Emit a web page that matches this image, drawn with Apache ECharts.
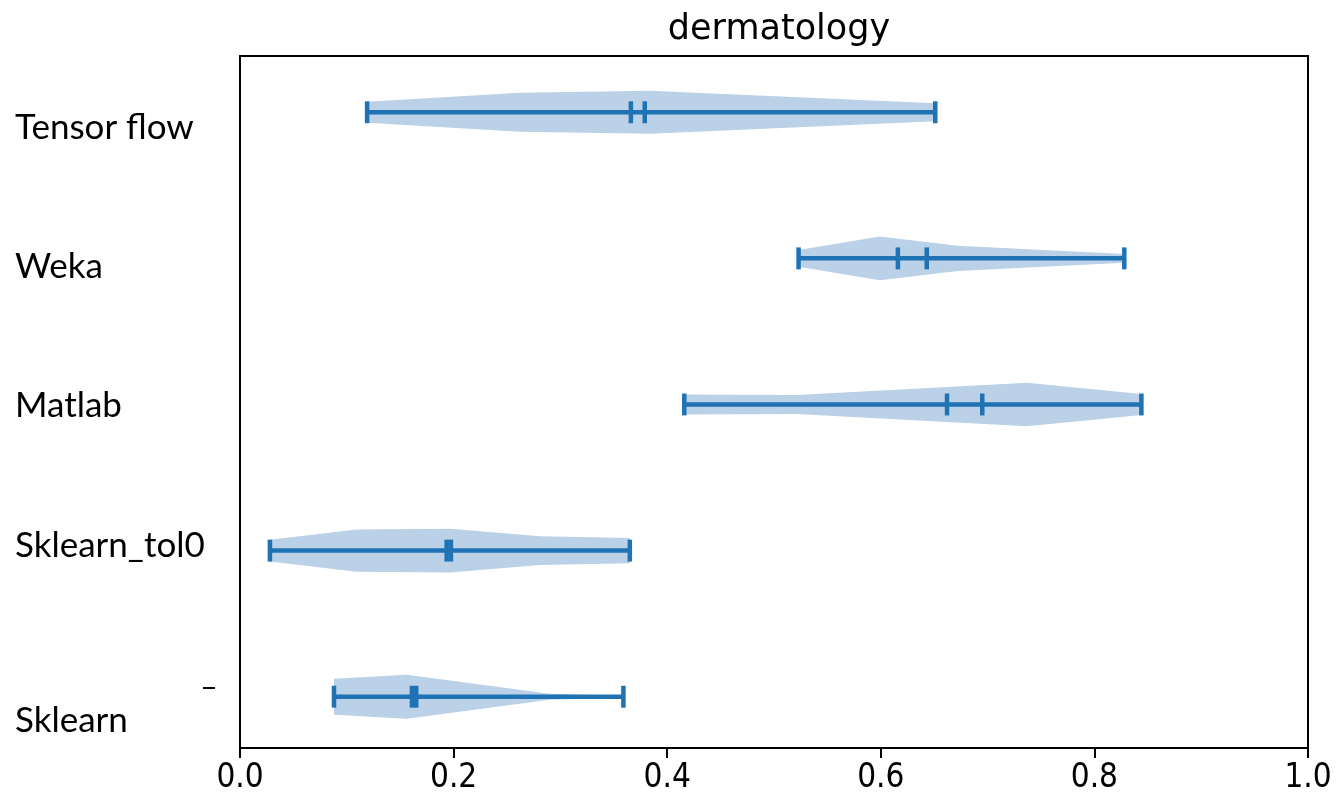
<!DOCTYPE html>
<html>
<head>
<meta charset="utf-8">
<title>dermatology</title>
<script src="https://cdn.jsdelivr.net/npm/echarts@6/dist/echarts.min.js"></script>
<style>
  html, body { margin: 0; padding: 0; background: #fff; }
  #chart { width: 1340px; height: 801px; }
</style>
</head>
<body>
<div id="chart"></div>
<script>
  // categories, top to bottom, and their positions on the hidden y axis
  const categories = ['Tensor flow', 'Weka', 'Matlab', 'Sklearn_tol0', 'Sklearn']
  const positions = [5, 4, 3, 2, 1]

  const minValues = [0.119, 0.523, 0.416, 0.028, 0.088]
  const maxValues = [0.651, 0.828, 0.844, 0.365, 0.359]
  const meanValues = [0.366, 0.616, 0.662, 0.1935, 0.161]
  const medianValues = [0.379, 0.643, 0.695, 0.1975, 0.165]

  // density outline: [value, half width]
  const tensorflowShape = [[0.119, 0.072], [0.262, 0.133], [0.384, 0.147], [0.651, 0.062]]
  const wekaShape = [[0.523, 0.058], [0.599, 0.149], [0.672, 0.087], [0.828, 0.030]]
  const matlabShape = [[0.416, 0.068], [0.521, 0.065], [0.737, 0.149], [0.844, 0.072]]
  const sklearnTol0Shape = [[0.028, 0.075], [0.109, 0.144], [0.197, 0.150], [0.281, 0.099], [0.365, 0.087]]
  const sklearnShape = [[0.088, 0.123], [0.156, 0.150], [0.290, 0.020], [0.359, 0.005]]
  const shapes = [tensorflowShape, wekaShape, matlabShape, sklearnTol0Shape, sklearnShape]

  // label offsets (px) from violin centre, the labels sit a bit off in the source
  const labelOffsets = [19, 12, 5, -1, 28]

  const lineColor = '#1f72b4'
  const fillColor = '#bad1e7'
  const capHalf = 0.075

  const chart = echarts.init(document.getElementById('chart'))

  function renderViolin(params, api) {
    const i = api.value(0)
    const pos = positions[i]
    const shape = shapes[i]
    const top = shape.map(p => api.coord([p[0], pos + p[1]]))
    const bottom = shape.slice().reverse().map(p => api.coord([p[0], pos - p[1]]))
    const children = [
      {
        type: 'polygon',
        shape: { points: top.concat(bottom) },
        style: { fill: fillColor }
      }
    ]
    const segs = [
      [[minValues[i], pos], [maxValues[i], pos]],
      [[minValues[i], pos - capHalf], [minValues[i], pos + capHalf]],
      [[maxValues[i], pos - capHalf], [maxValues[i], pos + capHalf]],
      [[meanValues[i], pos - capHalf], [meanValues[i], pos + capHalf]],
      [[medianValues[i], pos - capHalf], [medianValues[i], pos + capHalf]]
    ]
    segs.forEach(s => {
      const a = api.coord(s[0])
      const b = api.coord(s[1])
      children.push({
        type: 'line',
        shape: { x1: a[0], y1: a[1], x2: b[0], y2: b[1] },
        style: { stroke: lineColor, lineWidth: 4.5 }
      })
    })
    return { type: 'group', children: children }
  }

  chart.setOption({
    animation: false,
    title: {
      text: 'dermatology',
      left: 774,
      textAlign: 'center',
      top: 7,
      textStyle: {
        fontFamily: 'DejaVu Sans',
        fontSize: 35,
        fontWeight: 'normal',
        color: '#000'
      }
    },
    grid: {
      left: 240,
      right: 32,
      top: 56,
      bottom: 53,
      show: true,
      borderColor: '#000',
      borderWidth: 2
    },
    xAxis: {
      type: 'value',
      min: 0,
      max: 1,
      interval: 0.2,
      splitLine: { show: false },
      axisLine: { show: true, lineStyle: { color: '#000', width: 2 } },
      axisTick: { show: true, length: 10, lineStyle: { color: '#000', width: 2 } },
      axisLabel: {
        margin: 14,
        color: '#000',
        fontSize: 33,
        fontFamily: 'DejaVu Sans Condensed, DejaVu Sans',
        formatter: v => v.toFixed(1),
        showMinLabel: true,
        showMaxLabel: true
      }
    },
    yAxis: {
      type: 'value',
      min: 0.649,
      max: 5.385,
      show: false
    },
    series: [
      {
        type: 'custom',
        renderItem: renderViolin,
        encode: { x: [1, 2], y: 3 },
        data: categories.map((c, i) => [i, minValues[i], maxValues[i], positions[i]])
      }
    ]
  })

  // category labels placed left of the box
  const labels = categories.map((c, i) => {
    const y = chart.convertToPixel({ yAxisIndex: 0 }, positions[i]) + labelOffsets[i]
    return {
      type: 'text',
      left: 15,
      top: y - 21,
      style: {
        text: c,
        fill: '#000',
        font: '35px Lato, "Open Sans", sans-serif'
      }
    }
  })
  // small stray dash from the source image
  labels.push({
    type: 'rect',
    shape: { x: 203, y: 687, width: 12, height: 2 },
    style: { fill: '#000' }
  })
  chart.setOption({ graphic: labels })
</script>
</body>
</html>
